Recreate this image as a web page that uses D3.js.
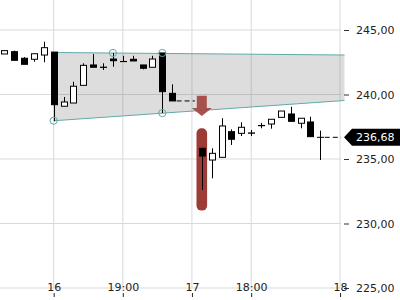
<!DOCTYPE html>
<html>
<head>
<meta charset="utf-8">
<script src="https://cdn.jsdelivr.net/npm/d3@7"></script>
<style>
  body { margin: 0; background: #fff; }
  svg text { font-family: "DejaVu Sans", sans-serif; font-size: 11px; fill: #222; }
</style>
</head>
<body>
<div class="chart"></div>
<script>
// candle slots (18 and 19 are empty - overnight gap)
var slot  = [0, 1, 2, 3, 4, 5, 6, 7, 8, 9, 10, 11, 12, 13, 14, 15, 16, 17,
             20, 21, 22, 23, 24, 25, 26, 27, 28, 29, 30, 31, 32];
var open  = [243.14, 243.32, 242.81, 242.73, 243.06, 243.29, 239.09, 239.34, 240.71, 242.29, 242.12, 242.75, 242.56, 242.73, 242.29, 242.11, 243.22, 240.09,
             235.83, 234.92, 235.13, 237.12, 236.99, 237.02, 237.58, 237.71, 238.23, 238.49, 237.77, 237.87, 236.68];
var high  = [243.40, 243.40, 242.90, 243.16, 244.09, 243.29, 239.81, 240.99, 242.42, 243.14, 242.42, 243.22, 243.00, 243.00, 242.29, 243.00, 243.22, 240.79,
             235.83, 235.83, 238.16, 237.30, 237.85, 237.25, 237.80, 238.08, 238.72, 239.05, 238.16, 238.28, 237.20];
var low   = [243.14, 242.65, 242.34, 242.54, 242.50, 237.93, 239.09, 239.34, 240.71, 242.11, 241.90, 242.15, 242.55, 242.60, 241.95, 242.11, 238.56, 239.50,
             232.60, 233.50, 235.13, 236.09, 236.78, 236.78, 237.38, 237.35, 238.23, 237.92, 237.38, 236.73, 234.92];
var close = [243.40, 242.65, 242.34, 243.16, 243.63, 239.21, 239.42, 240.64, 242.26, 242.11, 242.10, 242.62, 242.55, 242.60, 242.03, 242.75, 240.22, 239.50,
             235.23, 235.44, 237.56, 236.53, 237.46, 237.00, 237.60, 238.08, 238.72, 237.92, 238.16, 236.73, 236.68];

var yTicks = [225, 230, 235, 240, 245];
var xTickSlot  = [5, 12, 19, 25, 34];
var xTickLabel = ["16", "19:00", "17", "18:00", "18"];

// wedge drawn on the chart
var upperLine = [[5, 243.26], [34.45, 243.06]];
var lowerLine = [[5, 237.97], [34.45, 239.53]];
var pivots = [[5, 237.97], [11, 243.22], [16, 243.22], [16, 238.56]];

// gap annotation
var gapSlot = 20, gapTop = 237.38, gapBottom = 231.0;
var arrowTop = 239.9, arrowNeck = 238.95, arrowTip = 238.33;
var lastPrice = 236.68;

var svgWidth = 400, svgHeight = 300;
var plotRight = 341;

var svg = d3.select(".chart").append("svg")
    .attr("width", svgWidth)
    .attr("height", svgHeight);

var x = d3.scaleLinear().domain([0, 32]).range([4.3, 320.3]);
var y = d3.scaleLinear().domain([225, 245]).range([288, 30]);

var fmt = d => d3.format(".2f")(d).replace(".", ",");

// grid
svg.append("g").selectAll("line")
    .data(yTicks).join("line")
    .attr("x1", 0).attr("x2", plotRight)
    .attr("y1", d => y(d)).attr("y2", d => y(d))
    .attr("stroke", "#d9d9d9");

svg.append("g").selectAll("line")
    .data(xTickSlot).join("line")
    .attr("x1", d => x(d)).attr("x2", d => x(d))
    .attr("y1", 0).attr("y2", 288)
    .attr("stroke", "#d9d9d9");

// wedge band
var bandPts = upperLine.concat(lowerLine.slice().reverse());
svg.append("path")
    .attr("d", d3.line().x(d => x(d[0])).y(d => y(d[1]))(bandPts) + "Z")
    .attr("fill", "rgba(110,110,110,0.23)");

[upperLine, lowerLine].forEach(function(l) {
    svg.append("path")
        .attr("d", d3.line().x(d => x(d[0])).y(d => y(d[1]))(l))
        .attr("stroke", "#62a9ab")
        .attr("stroke-width", 1.1)
        .attr("fill", "none");
});

// gap marker
svg.append("rect")
    .attr("x", x(gapSlot) - 5.3)
    .attr("width", 10.6)
    .attr("y", y(gapTop))
    .attr("height", y(gapBottom) - y(gapTop))
    .attr("rx", 5)
    .attr("fill", "#9d3b36");

var ax = x(gapSlot);
svg.append("path")
    .attr("d", `M${ax - 5},${y(arrowTop)} L${ax + 5},${y(arrowTop)} L${ax + 5},${y(arrowNeck)}
                L${ax + 10},${y(arrowNeck)} L${ax},${y(arrowTip)} L${ax - 10},${y(arrowNeck)}
                L${ax - 5},${y(arrowNeck)} Z`)
    .attr("fill", "#a2443f")
    .attr("opacity", 0.92);

// dashed continuation lines
var dashes = [[17.45, 19.3, close[17]], [32.45, 34.1, lastPrice]];
svg.append("g").selectAll("line")
    .data(dashes).join("line")
    .attr("x1", d => x(d[0])).attr("x2", d => x(d[1]))
    .attr("y1", d => y(d[2])).attr("y2", d => y(d[2]))
    .attr("stroke", "#000")
    .attr("stroke-dasharray", "5,3");

// candles
var candles = slot.map((s, i) => ({ s: s, o: open[i], h: high[i], l: low[i], c: close[i] }));
var cg = svg.append("g").selectAll("g").data(candles).join("g");

cg.append("line")
    .attr("x1", d => Math.round(x(d.s)) + 0.5).attr("x2", d => Math.round(x(d.s)) + 0.5)
    .attr("y1", d => y(d.h)).attr("y2", d => y(d.l))
    .attr("stroke", "#000");

cg.append("rect")
    .attr("x", d => Math.round(x(d.s)) - 2.5)
    .attr("width", 6)
    .attr("y", d => y(Math.max(d.o, d.c)))
    .attr("height", d => Math.max(0.01, Math.abs(y(d.o) - y(d.c))))
    .attr("fill", d => d.c >= d.o ? "#fff" : "#000")
    .attr("stroke", "#000");

// pivot circles
svg.append("g").selectAll("circle")
    .data(pivots).join("circle")
    .attr("cx", d => x(d[0])).attr("cy", d => y(d[1]))
    .attr("r", 3.6)
    .attr("fill", "none")
    .attr("stroke", "#62a9ab");

// right axis
var yAxis = svg.append("g")
    .attr("transform", "translate(344,0)")
    .call(d3.axisRight(y).tickValues(yTicks).tickSize(5).tickPadding(7).tickFormat(fmt));
yAxis.select(".domain").remove();
yAxis.selectAll("line").attr("stroke", "#333");
yAxis.selectAll("text").attr("font-family", null).attr("font-size", null);

// bottom axis (labels sit above the tick marks)
var xAxis = svg.append("g")
    .attr("transform", "translate(0,293)")
    .call(d3.axisBottom(x).tickValues(xTickSlot).tickSize(4)
          .tickFormat((d, i) => xTickLabel[i]));
xAxis.select(".domain").remove();
xAxis.selectAll("line").attr("stroke", "#222");
xAxis.selectAll("text").attr("y", -2).attr("dy", null)
    .attr("font-family", null).attr("font-size", null);

// last price tag
var py = y(lastPrice);
svg.append("path")
    .attr("d", `M344,${py} L352,${py - 8.5} L400,${py - 8.5} L400,${py + 8.5} L352,${py + 8.5} Z`)
    .attr("fill", "#000");
svg.append("text")
    .attr("x", 356).attr("y", py).attr("dy", "0.35em")
    .style("fill", "#fff")
    .text(fmt(lastPrice));
</script>
</body>
</html>
